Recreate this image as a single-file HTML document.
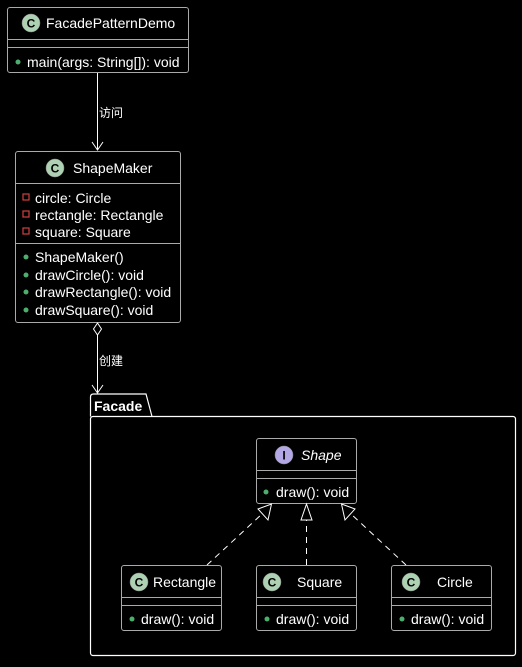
<!DOCTYPE html>
<html><head><meta charset="utf-8"><style>
html,body{margin:0;padding:0;background:#000;}
svg text{font-family:"Liberation Sans","Noto Sans CJK SC",sans-serif;font-size:14px;fill:#fff;}
</style></head><body>
<svg width="522" height="662" xmlns="http://www.w3.org/2000/svg">
<rect width="522" height="662" fill="#000"/>
<g stroke="#aaa" fill="none" stroke-width="1">
<rect x="7.5" y="7.5" width="181" height="65" rx="2.5"/>
<line x1="7.5" y1="39.5" x2="188.5" y2="39.5"/>
<line x1="7.5" y1="47.5" x2="188.5" y2="47.5"/>
<rect x="15.5" y="151.5" width="165" height="171" rx="2.5"/>
<line x1="15.5" y1="183.5" x2="180.5" y2="183.5"/>
<line x1="15.5" y1="243.5" x2="180.5" y2="243.5"/>
<path d="M90.5 416.5 V397 q0-3 3-3 H146 L152 416.5" stroke="#fff" stroke-width="1.2"/>
<rect x="90.5" y="416.5" width="425" height="239" rx="2.5" stroke="#fff" stroke-width="1.2"/>
<rect x="256.5" y="438.5" width="100" height="65" rx="2.5"/>
<line x1="256.5" y1="470.5" x2="356.5" y2="470.5"/>
<line x1="256.5" y1="478.5" x2="356.5" y2="478.5"/>
<rect x="121.5" y="565.5" width="100" height="65" rx="2.5"/>
<line x1="121.5" y1="597.5" x2="221.5" y2="597.5"/>
<line x1="121.5" y1="605.5" x2="221.5" y2="605.5"/>
<rect x="256.5" y="565.5" width="100" height="65" rx="2.5"/>
<line x1="256.5" y1="597.5" x2="356.5" y2="597.5"/>
<line x1="256.5" y1="605.5" x2="356.5" y2="605.5"/>
<rect x="391.5" y="565.5" width="100" height="65" rx="2.5"/>
<line x1="391.5" y1="597.5" x2="491.5" y2="597.5"/>
<line x1="391.5" y1="605.5" x2="491.5" y2="605.5"/>
</g>
<g stroke="#fff" fill="none" stroke-width="1">
<line x1="97.5" y1="73" x2="97.5" y2="150"/>
<path d="M92 142 L97.5 150 L103 142"/>
<path d="M97.5 323 L101.5 329 L97.5 335 L93.5 329 Z"/>
<line x1="97.5" y1="335" x2="97.5" y2="393"/>
<path d="M92 385 L97.5 393 L103 385"/>
<g stroke-dasharray="6,5">
<line x1="207" y1="565" x2="262" y2="514"/>
<line x1="306.5" y1="565" x2="306.5" y2="520"/>
<line x1="406" y1="565" x2="351" y2="514"/>
</g>
<path d="M271.5 504 L268 520 L258 509 Z"/>
<path d="M306.5 504 L312 520 L301 520 Z"/>
<path d="M341.5 504 L355 509 L345 520 Z"/>
</g>
<g>
<circle cx="31" cy="23" r="9" fill="#add1b2" stroke="#888" stroke-width="0.5"/>
<circle cx="55" cy="168" r="9" fill="#add1b2" stroke="#888" stroke-width="0.5"/>
<circle cx="284" cy="455" r="9" fill="#b4a7e5" stroke="#888" stroke-width="0.5"/>
<circle cx="139" cy="582" r="9" fill="#add1b2" stroke="#888" stroke-width="0.5"/>
<circle cx="272" cy="582" r="9" fill="#add1b2" stroke="#888" stroke-width="0.5"/>
<circle cx="411" cy="582" r="9" fill="#add1b2" stroke="#888" stroke-width="0.5"/>
</g>
<g>
<text x="31" y="27.5" text-anchor="middle" style="fill:#000;font-size:12px;font-weight:bold">C</text>
<text x="55" y="172.5" text-anchor="middle" style="fill:#000;font-size:12px;font-weight:bold">C</text>
<text x="284" y="459.5" text-anchor="middle" style="fill:#000;font-size:12px;font-weight:bold">I</text>
<text x="139" y="586.5" text-anchor="middle" style="fill:#000;font-size:12px;font-weight:bold">C</text>
<text x="272" y="586.5" text-anchor="middle" style="fill:#000;font-size:12px;font-weight:bold">C</text>
<text x="411" y="586.5" text-anchor="middle" style="fill:#000;font-size:12px;font-weight:bold">C</text>
</g>
<text x="46" y="28">FacadePatternDemo</text>
<text x="73" y="173">ShapeMaker</text>
<text x="301" y="460" style="font-style:italic">Shape</text>
<text x="153" y="587">Rectangle</text>
<text x="297" y="587">Square</text>
<text x="437" y="587">Circle</text>
<text x="94" y="411" style="font-weight:bold">Facade</text>
<g fill="#4caf6e">
<circle cx="18" cy="62" r="2.5"/>
<circle cx="26" cy="257" r="2.5"/><circle cx="26" cy="275" r="2.5"/>
<circle cx="26" cy="292" r="2.5"/><circle cx="26" cy="310" r="2.5"/>
<circle cx="266" cy="492" r="2.5"/>
<circle cx="132" cy="619" r="2.5"/><circle cx="267" cy="619" r="2.5"/><circle cx="402" cy="619" r="2.5"/>
</g>
<g fill="none" stroke="#d04040" stroke-width="1.2">
<rect x="23" y="194" width="6" height="6"/>
<rect x="23" y="211" width="6" height="6"/>
<rect x="23" y="228" width="6" height="6"/>
</g>
<text x="27" y="67">main(args: String[]): void</text>
<text x="35" y="203">circle: Circle</text>
<text x="35" y="220">rectangle: Rectangle</text>
<text x="35" y="237">square: Square</text>
<text x="35" y="262">ShapeMaker()</text>
<text x="35" y="280">drawCircle(): void</text>
<text x="35" y="297">drawRectangle(): void</text>
<text x="35" y="315">drawSquare(): void</text>
<text x="276" y="497">draw(): void</text>
<text x="141" y="624">draw(): void</text>
<text x="276" y="624">draw(): void</text>
<text x="411" y="624">draw(): void</text>
<text x="99" y="117" style="font-size:12px">访问</text>
<text x="99" y="365" style="font-size:12px">创建</text>
</svg>
</body></html>
